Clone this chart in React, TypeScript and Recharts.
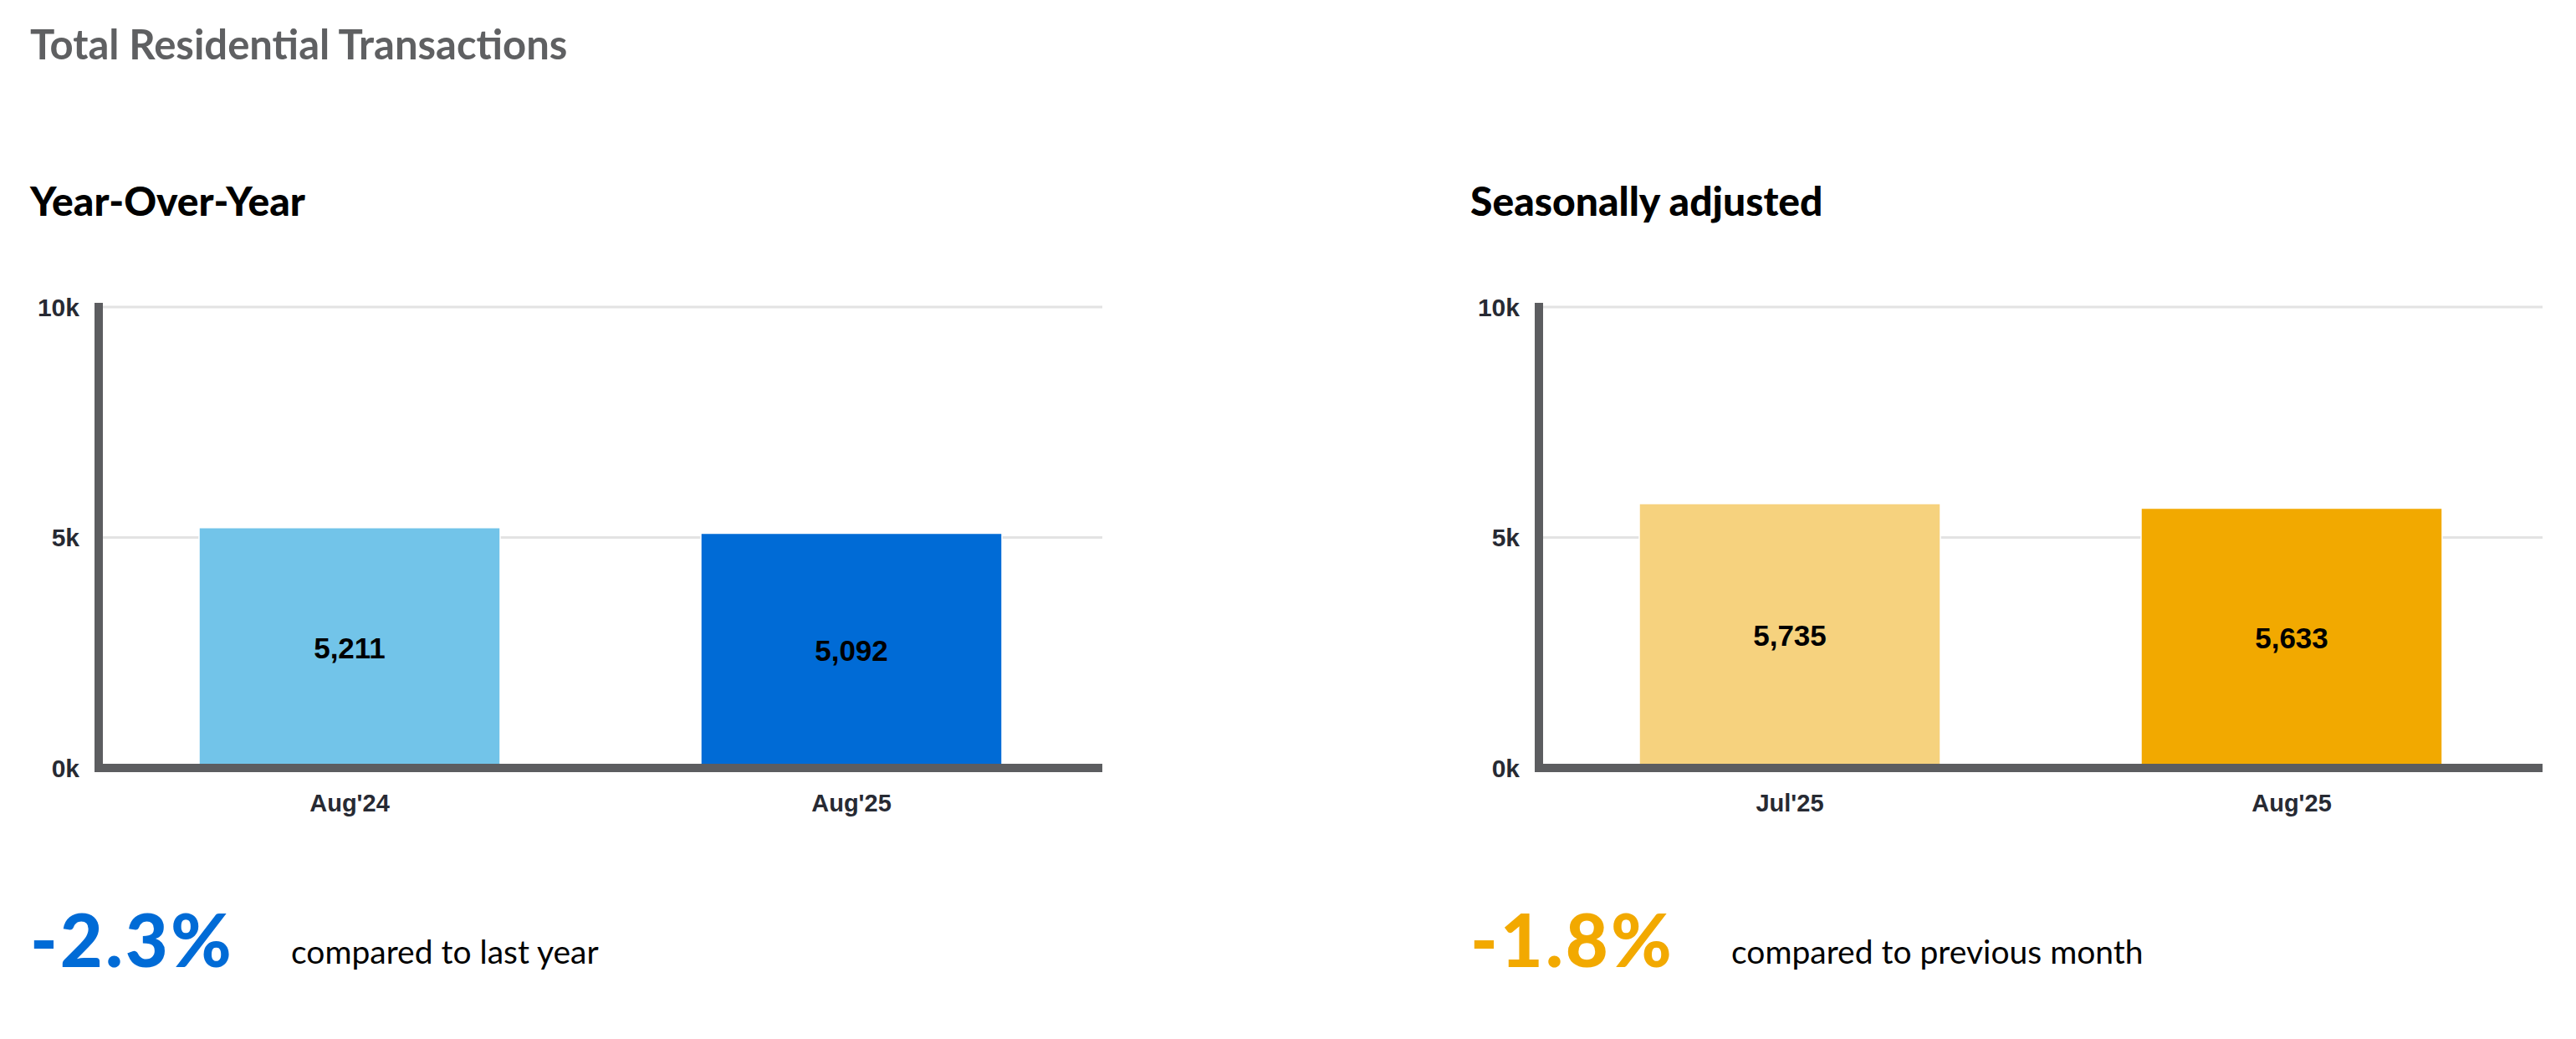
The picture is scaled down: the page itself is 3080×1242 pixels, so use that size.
import React from "react";
import { BarChart, Bar, XAxis, YAxis, CartesianGrid, Cell, LabelList } from "recharts";

const yoyCategories = ["Aug'24", "Aug'25"];
const yoyValues = [5211, 5092];
const saCategories = ["Jul'25", "Aug'25"];
const saValues = [5735, 5633];
const yTicks = [0, 5000, 10000];

const yoyChange = "-2.3%";
const saChange = "-1.8%";

const BLUE = ["#72c4e9", "#006bd6"];
const GOLD = ["#f6d27e", "#f2a900"];
const AXIS = "#5c5d60";
const TICK = "#272a33";
const chartFont = "'Liberation Sans', Arial, sans-serif";
const textFont = "Lato, 'Open Sans', sans-serif";

interface PanelProps {
  left: number;
  title: string;
  categories: string[];
  values: number[];
  colors: string[];
  change: string;
  changeText: string;
}

const Panel: React.FC<PanelProps> = ({ left, title, categories, values, colors, change, changeText }) => {
  const data = categories.map((name, i) => ({ name, value: values[i] }));
  return (
    <div style={{ position: "absolute", left, top: 0, width: 1352, height: 1242 }}>
      <div
        style={{
          position: "absolute",
          left: 36,
          top: 216,
          fontFamily: textFont,
          fontWeight: 900,
          fontSize: 48,
          lineHeight: 1,
          color: "#000",
          whiteSpace: "nowrap",
        }}
      >
        {title}
      </div>
      <div style={{ position: "absolute", left: 0, top: 300 }}>
        <BarChart
          width={1352}
          height={720}
          data={data}
          margin={{ top: 67, right: 34, bottom: 0, left: 18 }}
          barCategoryGap="20%"
        >
          <CartesianGrid vertical={false} stroke="#e3e3e3" strokeWidth={3} />
          <XAxis
            dataKey="name"
            height={102}
            tickSize={0}
            tickMargin={31}
            tickLine={false}
            axisLine={{ stroke: AXIS, strokeWidth: 10 }}
            tick={{ fill: TICK, fontSize: 29, fontWeight: 700, fontFamily: chartFont }}
          />
          <YAxis
            width={100}
            domain={[0, 10000]}
            ticks={yTicks}
            interval={0}
            tickSize={0}
            tickMargin={23}
            tickLine={false}
            axisLine={{ stroke: AXIS, strokeWidth: 10, strokeLinecap: "square" }}
            tickFormatter={(v: number) => `${v / 1000}k`}
            tick={{ fill: TICK, fontSize: 30, fontWeight: 700, fontFamily: chartFont }}
          />
          <Bar dataKey="value" isAnimationActive={false} stroke="#ffffff" strokeWidth={1.5}>
            {data.map((d, i) => (
              <Cell key={d.name} fill={colors[i]} />
            ))}
            <LabelList
              dataKey="value"
              position="center"
              offset={0}
              formatter={(v: any) => Number(v).toLocaleString("en-US")}
              fill="#000"
              style={{ fontSize: 35, fontWeight: 700, fontFamily: chartFont }}
            />
          </Bar>
        </BarChart>
      </div>
      <div
        style={{
          position: "absolute",
          left: 36,
          top: 1078,
          fontFamily: textFont,
          fontWeight: 900,
          fontSize: 88,
          lineHeight: 1,
          letterSpacing: 3,
          color: colors[1],
          whiteSpace: "nowrap",
        }}
      >
        {change}
      </div>
      <div
        style={{
          position: "absolute",
          left: 348,
          top: 1118,
          fontFamily: textFont,
          fontWeight: 400,
          fontSize: 39,
          lineHeight: 1,
          color: "#000",
          whiteSpace: "nowrap",
        }}
      >
        {changeText}
      </div>
    </div>
  );
};

export default function App() {
  return (
    <div style={{ position: "absolute", left: 0, top: 0, width: 3080, height: 1242, background: "#fff" }}>
      <div
        style={{
          position: "absolute",
          left: 36,
          top: 28,
          fontFamily: textFont,
          fontWeight: 700,
          fontSize: 49,
          lineHeight: 1,
          color: "#5f6062",
          whiteSpace: "nowrap",
        }}
      >
        Total Residential Transactions
      </div>
      <Panel
        left={0}
        title="Year-Over-Year"
        categories={yoyCategories}
        values={yoyValues}
        colors={BLUE}
        change={yoyChange}
        changeText="compared to last year"
      />
      <Panel
        left={1722}
        title="Seasonally adjusted"
        categories={saCategories}
        values={saValues}
        colors={GOLD}
        change={saChange}
        changeText="compared to previous month"
      />
    </div>
  );
}
